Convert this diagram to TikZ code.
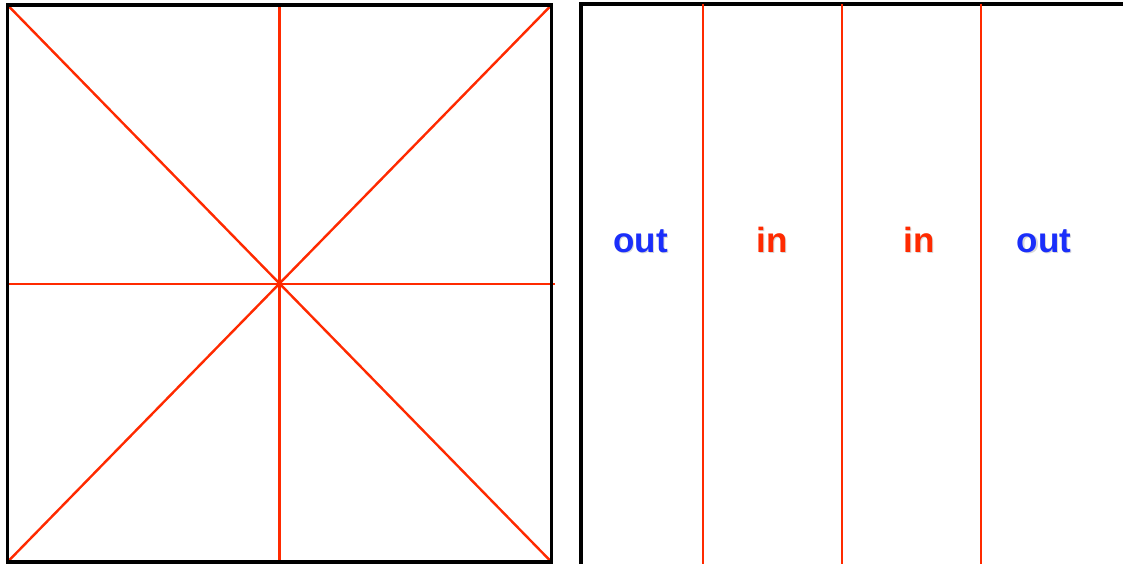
\documentclass[tikz,border=0pt]{standalone}
\usepackage{fontspec}
\setmainfont{Liberation Sans}
\definecolor{myred}{RGB}{255,42,0}
\definecolor{myblue}{RGB}{26,46,250}
\tikzset{
  frame/.style={line width=3.3pt, draw=black},
  redline/.style={line width=2.4pt, draw=myred},
  lbl/.style={font=\bfseries\fontsize{35}{40}\selectfont, inner sep=0pt, anchor=base},
}
\begin{document}
\begin{tikzpicture}[x=1pt,y=-1pt]
\useasboundingbox (0,0) rectangle (1123,564);
% left square
\coordinate (tl) at (7.5,5);
\coordinate (tr) at (551.5,5);
\coordinate (bl) at (7.5,562);
\coordinate (br) at (551.5,562);
\coordinate (tm) at (279.5,5);
\coordinate (bm) at (279.5,562);
\coordinate (lm) at (7.5,284);
\coordinate (rm) at (555,284);
\draw[redline] (tl) -- (br);
\draw[redline] (tr) -- (bl);
\draw[redline] (tm) -- (bm);
\draw[redline] (lm) -- (rm);
\draw[frame] (tl) rectangle (br);
% right box
\coordinate (rtl) at (581,4);
\coordinate (rtr) at (1130,4);
\coordinate (rbl) at (581,570);
\draw[frame] (rbl) -- (rtl) -- (rtr);
\foreach \x/\n in {703/a,842/b,981/c} {
  \coordinate (\n top) at (\x,4);
  \coordinate (\n bot) at (\x,570);
  \draw[redline] (\n top) -- (\n bot);
}
\foreach \x/\t/\c/\n in {640.5/out/myblue/o1, 772/in/myred/i1, 919/in/myred/i2, 1044/out/myblue/o2} {
  \node[lbl, text=black!15] at (\x+1.2,253.2) {\t};
  \node[lbl, text=\c] (\n) at (\x,252) {\t};
}
\end{tikzpicture}
\end{document}
